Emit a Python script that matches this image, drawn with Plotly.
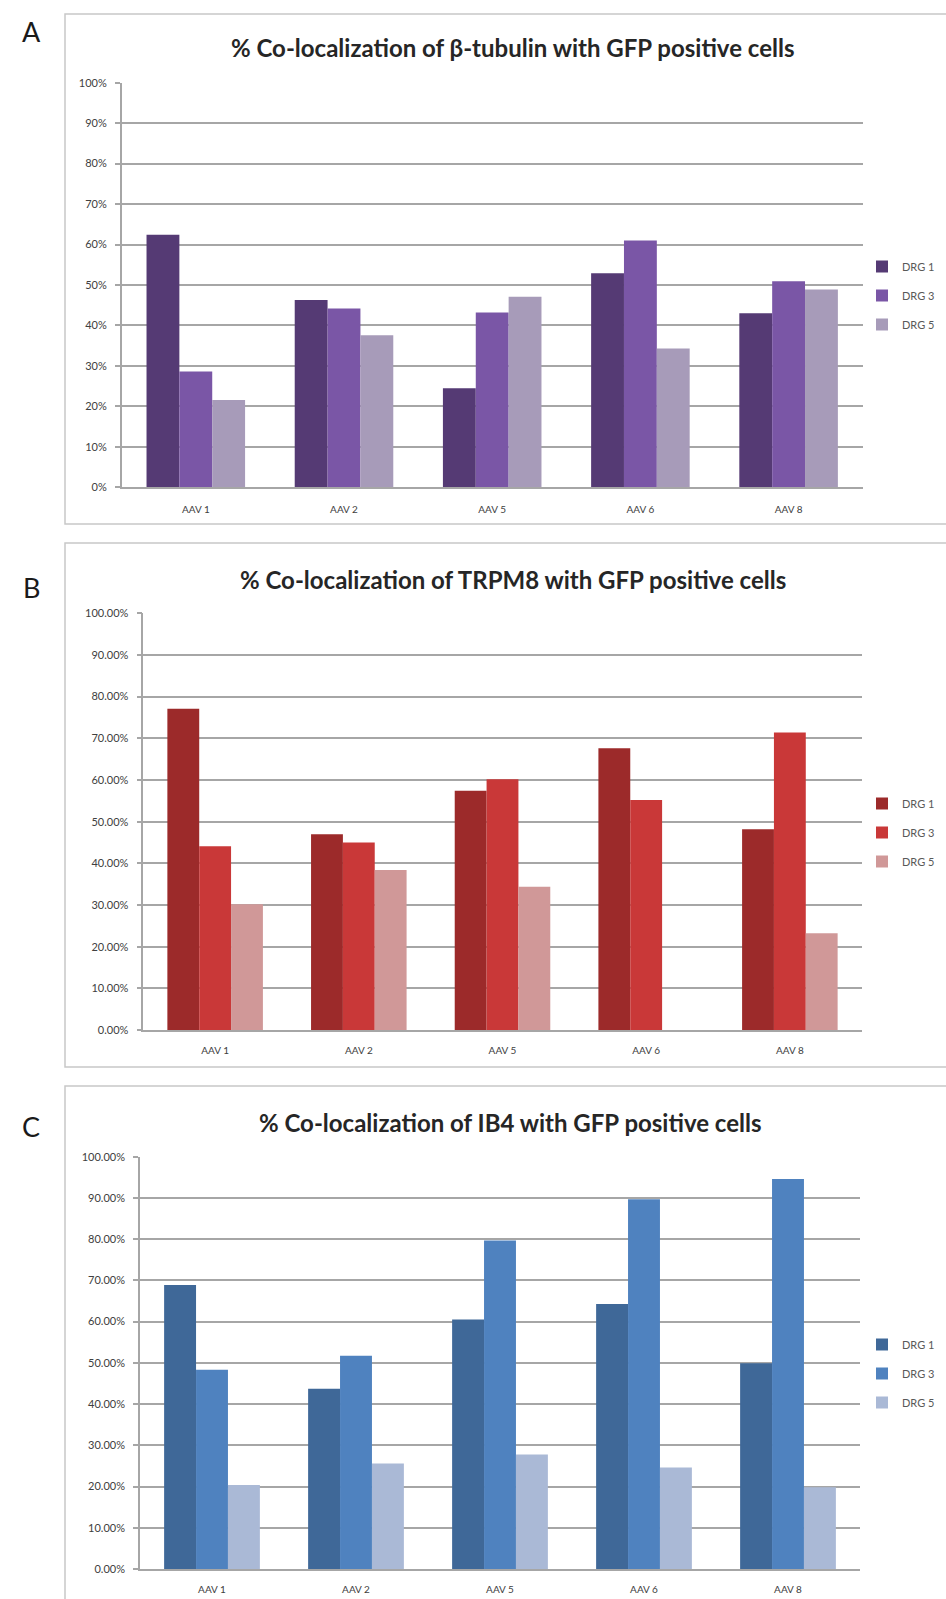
import plotly.graph_objects as go

# ---------------- data ----------------
categories = ["AAV 1", "AAV 2", "AAV 5", "AAV 6", "AAV 8"]
series_names = ["DRG 1", "DRG 3", "DRG 5"]

tubulin_drg1 = [62.4, 46.3, 24.5, 52.9, 43.0]
tubulin_drg3 = [28.6, 44.2, 43.2, 61.0, 50.9]
tubulin_drg5 = [21.6, 37.6, 47.1, 34.3, 48.9]

trpm8_drg1 = [77.1, 47.0, 57.4, 67.6, 48.2]
trpm8_drg3 = [44.1, 45.0, 60.2, 55.2, 71.4]
trpm8_drg5 = [30.2, 38.4, 34.4, None, 23.2]

ib4_drg1 = [68.9, 43.7, 60.5, 64.3, 49.9]
ib4_drg3 = [48.3, 51.7, 79.7, 89.7, 94.6]
ib4_drg5 = [20.4, 25.6, 27.8, 24.6, 19.8]

titles = [
    "% Co-localization of β-tubulin with GFP positive cells",
    "% Co-localization of TRPM8 with GFP positive cells",
    "% Co-localization of IB4 with GFP positive cells",
]
panel_letters = ["A", "B", "C"]
y_tick_formats = ["d", ".2f", ".2f"]

# ---------------- styling / layout (pixels) ----------------
W, H = 946, 1599
FONT = "Lato, 'Open Sans', sans-serif"


def px(x):
    return x / W


def py(y):
    return 1 - y / H


panels = [
    dict(values=[tubulin_drg1, tubulin_drg3, tubulin_drg5],
         colors=["#553a74", "#7a56a6", "#a79bb9"],
         plot=(121.7, 862.7, 82.7, 487.3), box=(65, 14, 960, 524),
         title_xy=(512, 48), letter_xy=(31, 31), legend_y=252,
         xstand=12),
    dict(values=[trpm8_drg1, trpm8_drg3, trpm8_drg5],
         colors=["#9c2a2a", "#c93838", "#d09898"],
         plot=(143.3, 861.7, 613.3, 1030.0), box=(65, 543, 960, 1067),
         title_xy=(513, 579), letter_xy=(31, 588), legend_y=789,
         xstand=10),
    dict(values=[ib4_drg1, ib4_drg3, ib4_drg5],
         colors=["#3f6898", "#4f82bf", "#aab9d6"],
         plot=(140.0, 860.0, 1156.7, 1569.0), box=(65, 1086, 960, 1640),
         title_xy=(510, 1122), letter_xy=(31, 1126), legend_y=1330,
         xstand=10),
]

fig = go.Figure()
layout = dict(
    width=W, height=H,
    margin=dict(l=0, r=0, t=0, b=0, pad=0, autoexpand=False),
    paper_bgcolor="white", plot_bgcolor="white",
    barmode="group", bargap=0.335, bargroupgap=0,
    font=dict(family=FONT, color="#404040"),
    shapes=[], annotations=[],
)

for i, p in enumerate(panels):
    n = "" if i == 0 else str(i + 1)
    legend_name = "legend" if i == 0 else f"legend{i + 1}"
    for j, name in enumerate(series_names):
        fig.add_trace(go.Bar(
            x=categories, y=p["values"][j], name=name,
            marker=dict(color=p["colors"][j], line=dict(width=0)),
            xaxis="x" + n, yaxis="y" + n,
            legend=legend_name, legendgroup=f"g{i}{j}",
        ))
    x0, x1, ytop, ybot = p["plot"]
    layout["xaxis" + n] = dict(
        domain=[px(x0), px(x1)], anchor="y" + n,
        showline=True, linecolor="#a6a6a6", linewidth=1.5,
        ticks="", showgrid=False, automargin=False,
        tickfont=dict(size=10, color="#404040", family=FONT),
        ticklabelstandoff=p["xstand"], fixedrange=True,
    )
    layout["yaxis" + n] = dict(
        domain=[py(ybot), py(ytop)], anchor="x" + n,
        range=[0, 100], dtick=10, tick0=0, automargin=False,
        tickformat=y_tick_formats[i], ticksuffix="%",
        showgrid=True, gridcolor="#a6a6a6", gridwidth=1.5,
        showline=True, linecolor="#a6a6a6", linewidth=1.5,
        ticks="outside", ticklen=5, tickcolor="#a6a6a6", tickwidth=1.5,
        tickfont=dict(size=11, color="#404040", family=FONT),
        ticklabelstandoff=6, zeroline=False, fixedrange=True,
    )
    layout[legend_name] = dict(
        x=px(862), xanchor="left", y=py(p["legend_y"]), yanchor="top",
        font=dict(size=11, color="#595959", family=FONT),
        bgcolor="rgba(0,0,0,0)", tracegroupgap=10,
        traceorder="grouped",
    )
    bx0, by0, bx1, by1 = p["box"]
    layout["shapes"].append(dict(
        type="rect", xref="paper", yref="paper",
        x0=px(bx0), x1=px(bx1), y0=py(by1), y1=py(by0),
        line=dict(color="#c8c8c8", width=1.5), layer="below",
    ))
    tx, ty = p["title_xy"]
    layout["annotations"].append(dict(
        text="<b>" + titles[i] + "</b>", xref="paper", yref="paper",
        x=px(tx), y=py(ty), xanchor="center", yanchor="middle",
        showarrow=False, font=dict(size=24, color="#262626", family=FONT),
    ))
    lx, ly = p["letter_xy"]
    layout["annotations"].append(dict(
        text=panel_letters[i], xref="paper", yref="paper",
        x=px(lx), y=py(ly), xanchor="center", yanchor="middle",
        showarrow=False, font=dict(size=27, color="#1a1a1a", family=FONT),
    ))

fig.update_layout(**layout)

post = (
    "var d=document.getElementById('{plot_id}');"
    "document.documentElement.style.margin='0';"
    "document.documentElement.style.padding='0';"
    "document.documentElement.style.overflow='hidden';"
    "document.body.style.margin='0';"
    "document.body.style.padding='0';"
    "document.body.style.overflow='hidden';"
    "d.style.position='absolute';d.style.top='0px';d.style.left='0px';"
)
fig.write_html("out.html", config={"displayModeBar": False}, post_script=post)
